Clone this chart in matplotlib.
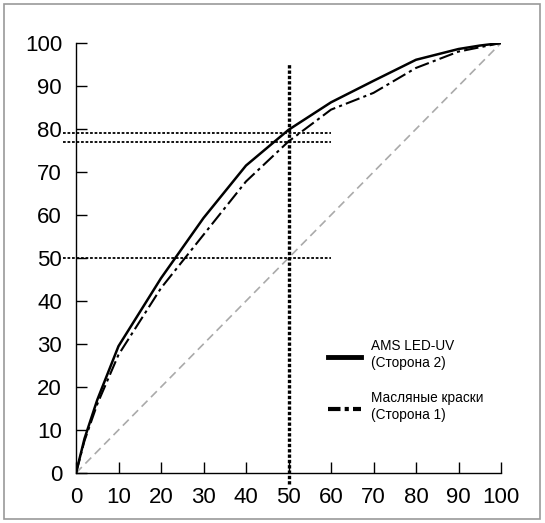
import matplotlib
matplotlib.use("Agg")
import matplotlib.pyplot as plt
from matplotlib.patches import Rectangle
from matplotlib import font_manager

x_led = [0, 2, 5, 10, 20, 30, 40, 50, 60, 70, 80, 90, 95, 100]
y_led = [0, 8, 17, 29.5, 45.3, 59.3, 71.5, 79.8, 86.2, 91.2, 96.1, 98.6, 99.4, 100]
x_oil = [0, 2, 5, 10, 20, 30, 40, 50, 60, 70, 80, 90, 100]
y_oil = [0, 7.5, 16, 27.5, 43, 55.4, 67.8, 77.1, 84.5, 88.4, 94.2, 98, 100]
ref_levels = [79, 77, 50]
ref_x = 50
ticks = [0, 10, 20, 30, 40, 50, 60, 70, 80, 90, 100]
label_led = "AMS LED-UV\n(Сторона 2)"
label_oil = "Масляные краски\n(Сторона 1)"

names = {f.name for f in font_manager.fontManager.ttflist}
narrow = "Liberation Sans Narrow" if "Liberation Sans Narrow" in names else "Liberation Sans"
plt.rcParams['font.family'] = ['Liberation Sans', 'DejaVu Sans']

fig = plt.figure(figsize=(5.45, 5.23), dpi=100)
fig.patches.append(Rectangle((4/545, 4/523), 536/545, 515/523, transform=fig.transFigure,
                             fill=False, edgecolor='#999999', linewidth=1.2))
ax = fig.add_axes([76/545, 1-473/523, 425/545, 430/523])

ax.plot([0, 100], [0, 100], color='#aaaaaa', linestyle=(0, (5, 3)), linewidth=1.2, zorder=1)
for lv in ref_levels:
    ax.plot([-3, 60], [lv, lv], color='black', linestyle=(0, (1.5, 1)), linewidth=1.3, clip_on=False, zorder=2)
ax.plot([ref_x, ref_x], [-2.5, 95], color='black', linestyle=(0, (1, 0.6)), linewidth=2.4, clip_on=False, zorder=2)

ax.plot(x_led, y_led, color='black', linewidth=1.8, zorder=3)
ax.plot(x_oil, y_oil, color='black', linewidth=1.5, linestyle=(0, (7, 2, 1.5, 2)), zorder=3)

# legend
ax.plot([59.3, 67.1], [27, 27], color='black', linewidth=3.5, clip_on=False)
ax.plot([59.3, 67.1], [14.8, 14.8], color='black', linewidth=3, linestyle=(0, (3, 1, 1, 1)), clip_on=False)
ax.text(69.3, 27.6, label_led, fontsize=9.8, family=[narrow, 'DejaVu Sans'], va='center', ha='left', linespacing=1.3)
ax.text(69.3, 15.4, label_oil, fontsize=9.8, family=[narrow, 'DejaVu Sans'], va='center', ha='left', linespacing=1.3)

ax.set_xlim(0, 100)
ax.set_ylim(0, 100)
ax.set_xticks(ticks)
ax.set_yticks(ticks)
ax.tick_params(direction='in', length=8, width=1, labelsize=16, colors='black')
ax.tick_params(axis='y', pad=10)
ax.tick_params(axis='x', pad=10)
for s in ['top', 'right']:
    ax.spines[s].set_visible(False)
for s in ['left', 'bottom']:
    ax.spines[s].set_linewidth(1)

fig.savefig("out.png", dpi=100)
